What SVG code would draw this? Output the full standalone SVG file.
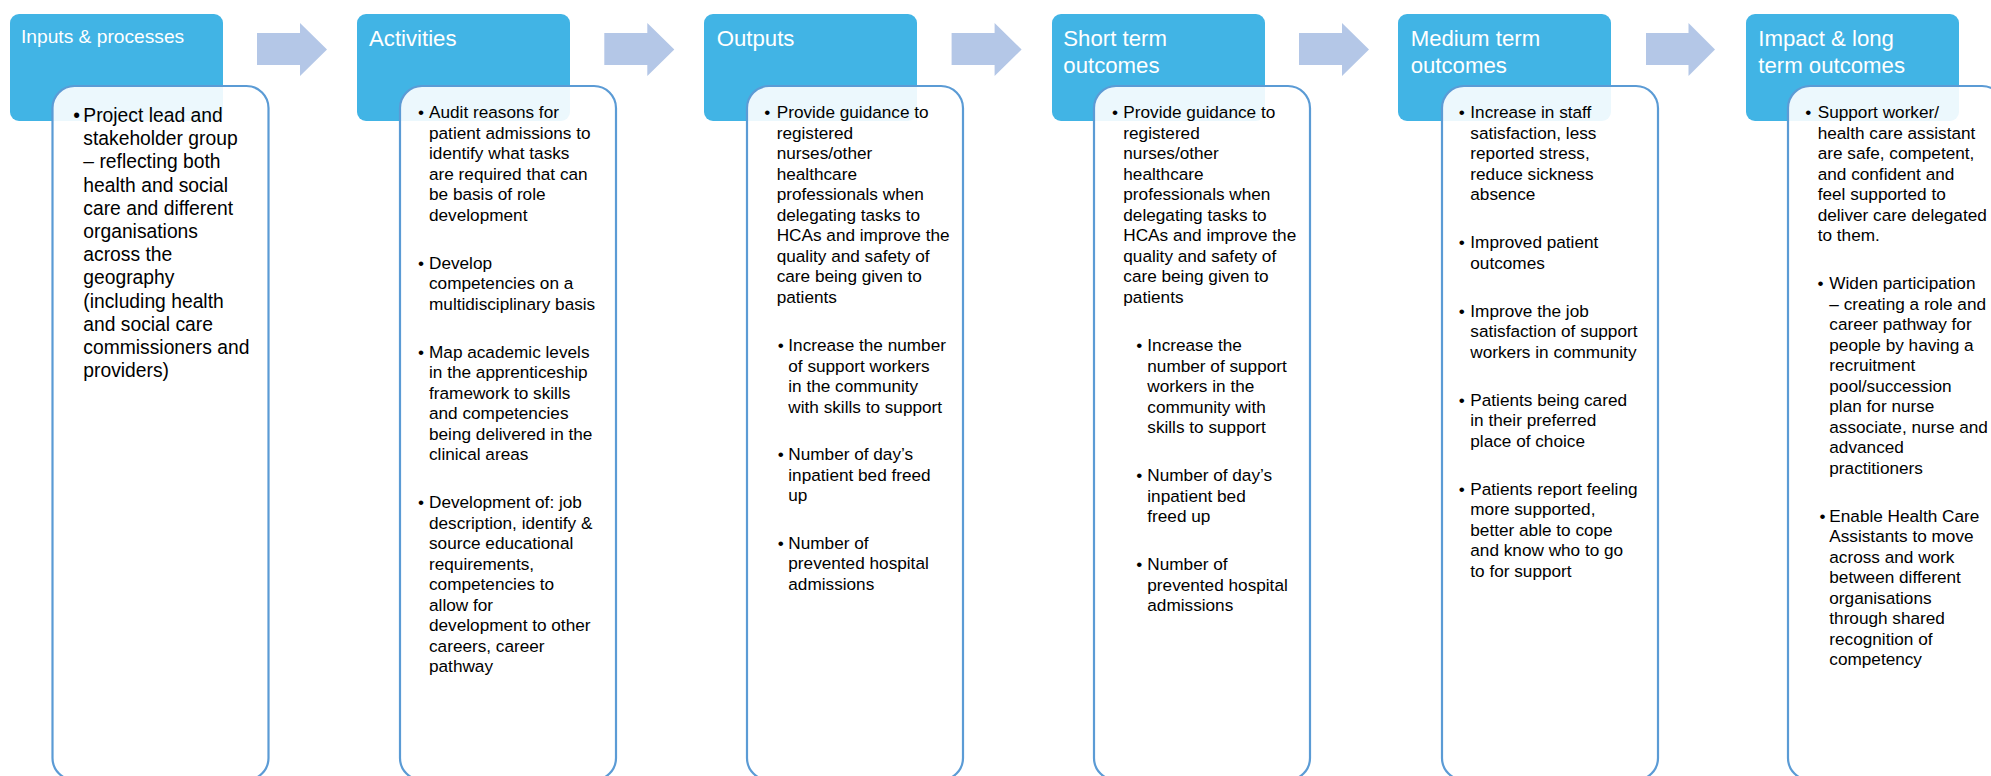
<svg xmlns="http://www.w3.org/2000/svg" width="1991" height="776" viewBox="0 0 1991 776">
<style>
.hdr{fill:#41B4E5;}
.card{fill:#FFFFFF;fill-opacity:0.9;stroke:#5B9BD5;stroke-width:2.2;}
.arrow{fill:#B4C7E7;}
.ttl{font-family:"Liberation Sans",Arial,sans-serif;font-size:22.2px;fill:#FFFFFF;}
.ttl1{font-family:"Liberation Sans",Arial,sans-serif;font-size:19.2px;fill:#FFFFFF;}
.b1{font-family:"Liberation Sans",Arial,sans-serif;font-size:19.3px;fill:#000000;}
.b{font-family:"Liberation Sans",Arial,sans-serif;font-size:17.2px;fill:#000000;}
</style>
<rect width="1991" height="776" fill="#FFFFFF"/>

<g id="connectors">
<polygon class="arrow" points="257,33 300,33 300,23 327,49.5 300,76 300,65 257,65"/>
<polygon class="arrow" points="604.3,33 647.3,33 647.3,23 674.3,49.5 647.3,76 647.3,65 604.3,65"/>
<polygon class="arrow" points="951.6,33 994.6,33 994.6,23 1021.6,49.5 994.6,76 994.6,65 951.6,65"/>
<polygon class="arrow" points="1299,33 1342,33 1342,23 1369,49.5 1342,76 1342,65 1299,65"/>
<polygon class="arrow" points="1646,33 1688.5,33 1688.5,23 1715,49.5 1688.5,76 1688.5,65 1646,65"/>
</g>

<g id="inputs">
<rect class="hdr" x="10" y="14" width="213" height="107" rx="9"/>
<text class="ttl1" x="21" y="43">Inputs &amp; processes</text>
<rect class="card" x="52.5" y="86" width="216" height="694" rx="22"/>
<text class="b1"><tspan x="73.3" y="122">•</tspan></text>
<text class="b1">
<tspan x="83.3" y="122">Project lead and</tspan>
<tspan x="83.3" y="145.2">stakeholder group</tspan>
<tspan x="83.3" y="168.4">– reflecting both</tspan>
<tspan x="83.3" y="191.6">health and social</tspan>
<tspan x="83.3" y="214.8">care and different</tspan>
<tspan x="83.3" y="238">organisations</tspan>
<tspan x="83.3" y="261.2">across the</tspan>
<tspan x="83.3" y="284.4">geography</tspan>
<tspan x="83.3" y="307.6">(including health</tspan>
<tspan x="83.3" y="330.8">and social care</tspan>
<tspan x="83.3" y="354">commissioners and</tspan>
<tspan x="83.3" y="377.2">providers)</tspan>
</text>
</g>

<g id="activities">
<rect class="hdr" x="357" y="14" width="213" height="107" rx="9"/>
<text class="ttl" x="369" y="46">Activities</text>
<rect class="card" x="400" y="86" width="216" height="694" rx="22"/>
<text class="b"><tspan x="418" y="118">•</tspan><tspan x="418" y="268.5">•</tspan><tspan x="418" y="357.5">•</tspan><tspan x="418" y="508">•</tspan></text>
<text class="b">
<tspan x="429" y="118">Audit reasons for</tspan>
<tspan x="429" y="138.5">patient admissions to</tspan>
<tspan x="429" y="159">identify what tasks</tspan>
<tspan x="429" y="179.5">are required that can</tspan>
<tspan x="429" y="200">be basis of role</tspan>
<tspan x="429" y="220.5">development</tspan>
<tspan x="429" y="268.5">Develop</tspan>
<tspan x="429" y="289">competencies on a</tspan>
<tspan x="429" y="309.5">multidisciplinary basis</tspan>
<tspan x="429" y="357.5">Map academic levels</tspan>
<tspan x="429" y="378">in the apprenticeship</tspan>
<tspan x="429" y="398.5">framework to skills</tspan>
<tspan x="429" y="419">and competencies</tspan>
<tspan x="429" y="439.5">being delivered in the</tspan>
<tspan x="429" y="460">clinical areas</tspan>
<tspan x="429" y="508">Development of: job</tspan>
<tspan x="429" y="528.5">description, identify &amp;</tspan>
<tspan x="429" y="549">source educational</tspan>
<tspan x="429" y="569.5">requirements,</tspan>
<tspan x="429" y="590">competencies to</tspan>
<tspan x="429" y="610.5">allow for</tspan>
<tspan x="429" y="631">development to other</tspan>
<tspan x="429" y="651.5">careers, career</tspan>
<tspan x="429" y="672">pathway</tspan>
</text>
</g>

<g id="outputs">
<rect class="hdr" x="704" y="14" width="213" height="107" rx="9"/>
<text class="ttl" x="716.7" y="46">Outputs</text>
<rect class="card" x="747" y="86" width="216" height="694" rx="22"/>
<text class="b"><tspan x="764.3" y="118">•</tspan><tspan x="777.7" y="351">•</tspan><tspan x="777.7" y="459.5">•</tspan><tspan x="777.7" y="548.5">•</tspan></text>
<text class="b">
<tspan x="776.7" y="118">Provide guidance to</tspan>
<tspan x="776.7" y="138.5">registered</tspan>
<tspan x="776.7" y="159">nurses/other</tspan>
<tspan x="776.7" y="179.5">healthcare</tspan>
<tspan x="776.7" y="200">professionals when</tspan>
<tspan x="776.7" y="220.5">delegating tasks to</tspan>
<tspan x="776.7" y="241">HCAs and improve the</tspan>
<tspan x="776.7" y="261.5">quality and safety of</tspan>
<tspan x="776.7" y="282">care being given to</tspan>
<tspan x="776.7" y="302.5">patients</tspan>
<tspan x="788.3" y="351">Increase the number</tspan>
<tspan x="788.3" y="371.5">of support workers</tspan>
<tspan x="788.3" y="392">in the community</tspan>
<tspan x="788.3" y="412.5">with skills to support</tspan>
<tspan x="788.3" y="459.5">Number of day’s</tspan>
<tspan x="788.3" y="480.5">inpatient bed freed</tspan>
<tspan x="788.3" y="501">up</tspan>
<tspan x="788.3" y="548.5">Number of</tspan>
<tspan x="788.3" y="569">prevented hospital</tspan>
<tspan x="788.3" y="589.5">admissions</tspan>
</text>
</g>

<g id="short-term">
<rect class="hdr" x="1052" y="14" width="213" height="107" rx="9"/>
<text class="ttl"><tspan x="1063.3" y="46">Short term</tspan><tspan x="1063.3" y="73">outcomes</tspan></text>
<rect class="card" x="1094" y="86" width="216" height="694" rx="22"/>
<text class="b"><tspan x="1112" y="118">•</tspan><tspan x="1136.3" y="351">•</tspan><tspan x="1136.3" y="481">•</tspan><tspan x="1136.3" y="570">•</tspan></text>
<text class="b">
<tspan x="1123.3" y="118">Provide guidance to</tspan>
<tspan x="1123.3" y="138.5">registered</tspan>
<tspan x="1123.3" y="159">nurses/other</tspan>
<tspan x="1123.3" y="179.5">healthcare</tspan>
<tspan x="1123.3" y="200">professionals when</tspan>
<tspan x="1123.3" y="220.5">delegating tasks to</tspan>
<tspan x="1123.3" y="241">HCAs and improve the</tspan>
<tspan x="1123.3" y="261.5">quality and safety of</tspan>
<tspan x="1123.3" y="282">care being given to</tspan>
<tspan x="1123.3" y="302.5">patients</tspan>
<tspan x="1147.3" y="351">Increase the</tspan>
<tspan x="1147.3" y="371.5">number of support</tspan>
<tspan x="1147.3" y="392">workers in the</tspan>
<tspan x="1147.3" y="412.5">community with</tspan>
<tspan x="1147.3" y="433">skills to support</tspan>
<tspan x="1147.3" y="481">Number of day’s</tspan>
<tspan x="1147.3" y="501.5">inpatient bed</tspan>
<tspan x="1147.3" y="522">freed up</tspan>
<tspan x="1147.3" y="570">Number of</tspan>
<tspan x="1147.3" y="590.5">prevented hospital</tspan>
<tspan x="1147.3" y="611">admissions</tspan>
</text>
</g>

<g id="medium-term">
<rect class="hdr" x="1398" y="14" width="213" height="107" rx="9"/>
<text class="ttl"><tspan x="1410.7" y="46">Medium term</tspan><tspan x="1410.7" y="73">outcomes</tspan></text>
<rect class="card" x="1442" y="86" width="216" height="694" rx="22"/>
<text class="b"><tspan x="1458.7" y="118">•</tspan><tspan x="1458.7" y="248">•</tspan><tspan x="1458.7" y="316.5">•</tspan><tspan x="1458.7" y="405.5">•</tspan><tspan x="1458.7" y="494.5">•</tspan></text>
<text class="b">
<tspan x="1470.3" y="118">Increase in staff</tspan>
<tspan x="1470.3" y="138.5">satisfaction, less</tspan>
<tspan x="1470.3" y="159">reported stress,</tspan>
<tspan x="1470.3" y="179.5">reduce sickness</tspan>
<tspan x="1470.3" y="200">absence</tspan>
<tspan x="1470.3" y="248">Improved patient</tspan>
<tspan x="1470.3" y="268.5">outcomes</tspan>
<tspan x="1470.3" y="316.5">Improve the job</tspan>
<tspan x="1470.3" y="337">satisfaction of support</tspan>
<tspan x="1470.3" y="357.5">workers in community</tspan>
<tspan x="1470.3" y="405.5">Patients being cared</tspan>
<tspan x="1470.3" y="426">in their preferred</tspan>
<tspan x="1470.3" y="446.5">place of choice</tspan>
<tspan x="1470.3" y="494.5">Patients report feeling</tspan>
<tspan x="1470.3" y="515">more supported,</tspan>
<tspan x="1470.3" y="535.5">better able to cope</tspan>
<tspan x="1470.3" y="556">and know who to go</tspan>
<tspan x="1470.3" y="576.5">to for support</tspan>
</text>
</g>

<g id="impact">
<rect class="hdr" x="1746" y="14" width="213" height="107" rx="9"/>
<text class="ttl"><tspan x="1758.3" y="46">Impact &amp; long</tspan><tspan x="1758.3" y="73">term outcomes</tspan></text>
<rect class="card" x="1788" y="86" width="216" height="694" rx="22"/>
<text class="b"><tspan x="1805.3" y="118">•</tspan><tspan x="1817.5" y="289">•</tspan><tspan x="1819.5" y="521.5">•</tspan></text>
<text class="b">
<tspan x="1817.7" y="118">Support worker/</tspan>
<tspan x="1817.7" y="138.5">health care assistant</tspan>
<tspan x="1817.7" y="159">are safe, competent,</tspan>
<tspan x="1817.7" y="179.5">and confident and</tspan>
<tspan x="1817.7" y="200">feel supported to</tspan>
<tspan x="1817.7" y="220.5">deliver care delegated</tspan>
<tspan x="1817.7" y="241">to them.</tspan>
<tspan x="1829.3" y="289">Widen participation</tspan>
<tspan x="1829.3" y="309.5">– creating a role and</tspan>
<tspan x="1829.3" y="330">career pathway for</tspan>
<tspan x="1829.3" y="350.5">people by having a</tspan>
<tspan x="1829.3" y="371">recruitment</tspan>
<tspan x="1829.3" y="391.5">pool/succession</tspan>
<tspan x="1829.3" y="412">plan for nurse</tspan>
<tspan x="1829.3" y="432.5">associate, nurse and</tspan>
<tspan x="1829.3" y="453">advanced</tspan>
<tspan x="1829.3" y="473.5">practitioners</tspan>
<tspan x="1829.3" y="521.5">Enable Health Care</tspan>
<tspan x="1829.3" y="542">Assistants to move</tspan>
<tspan x="1829.3" y="562.5">across and work</tspan>
<tspan x="1829.3" y="583">between different</tspan>
<tspan x="1829.3" y="603.5">organisations</tspan>
<tspan x="1829.3" y="624">through shared</tspan>
<tspan x="1829.3" y="644.5">recognition of</tspan>
<tspan x="1829.3" y="665">competency</tspan>
</text>
</g>
</svg>
